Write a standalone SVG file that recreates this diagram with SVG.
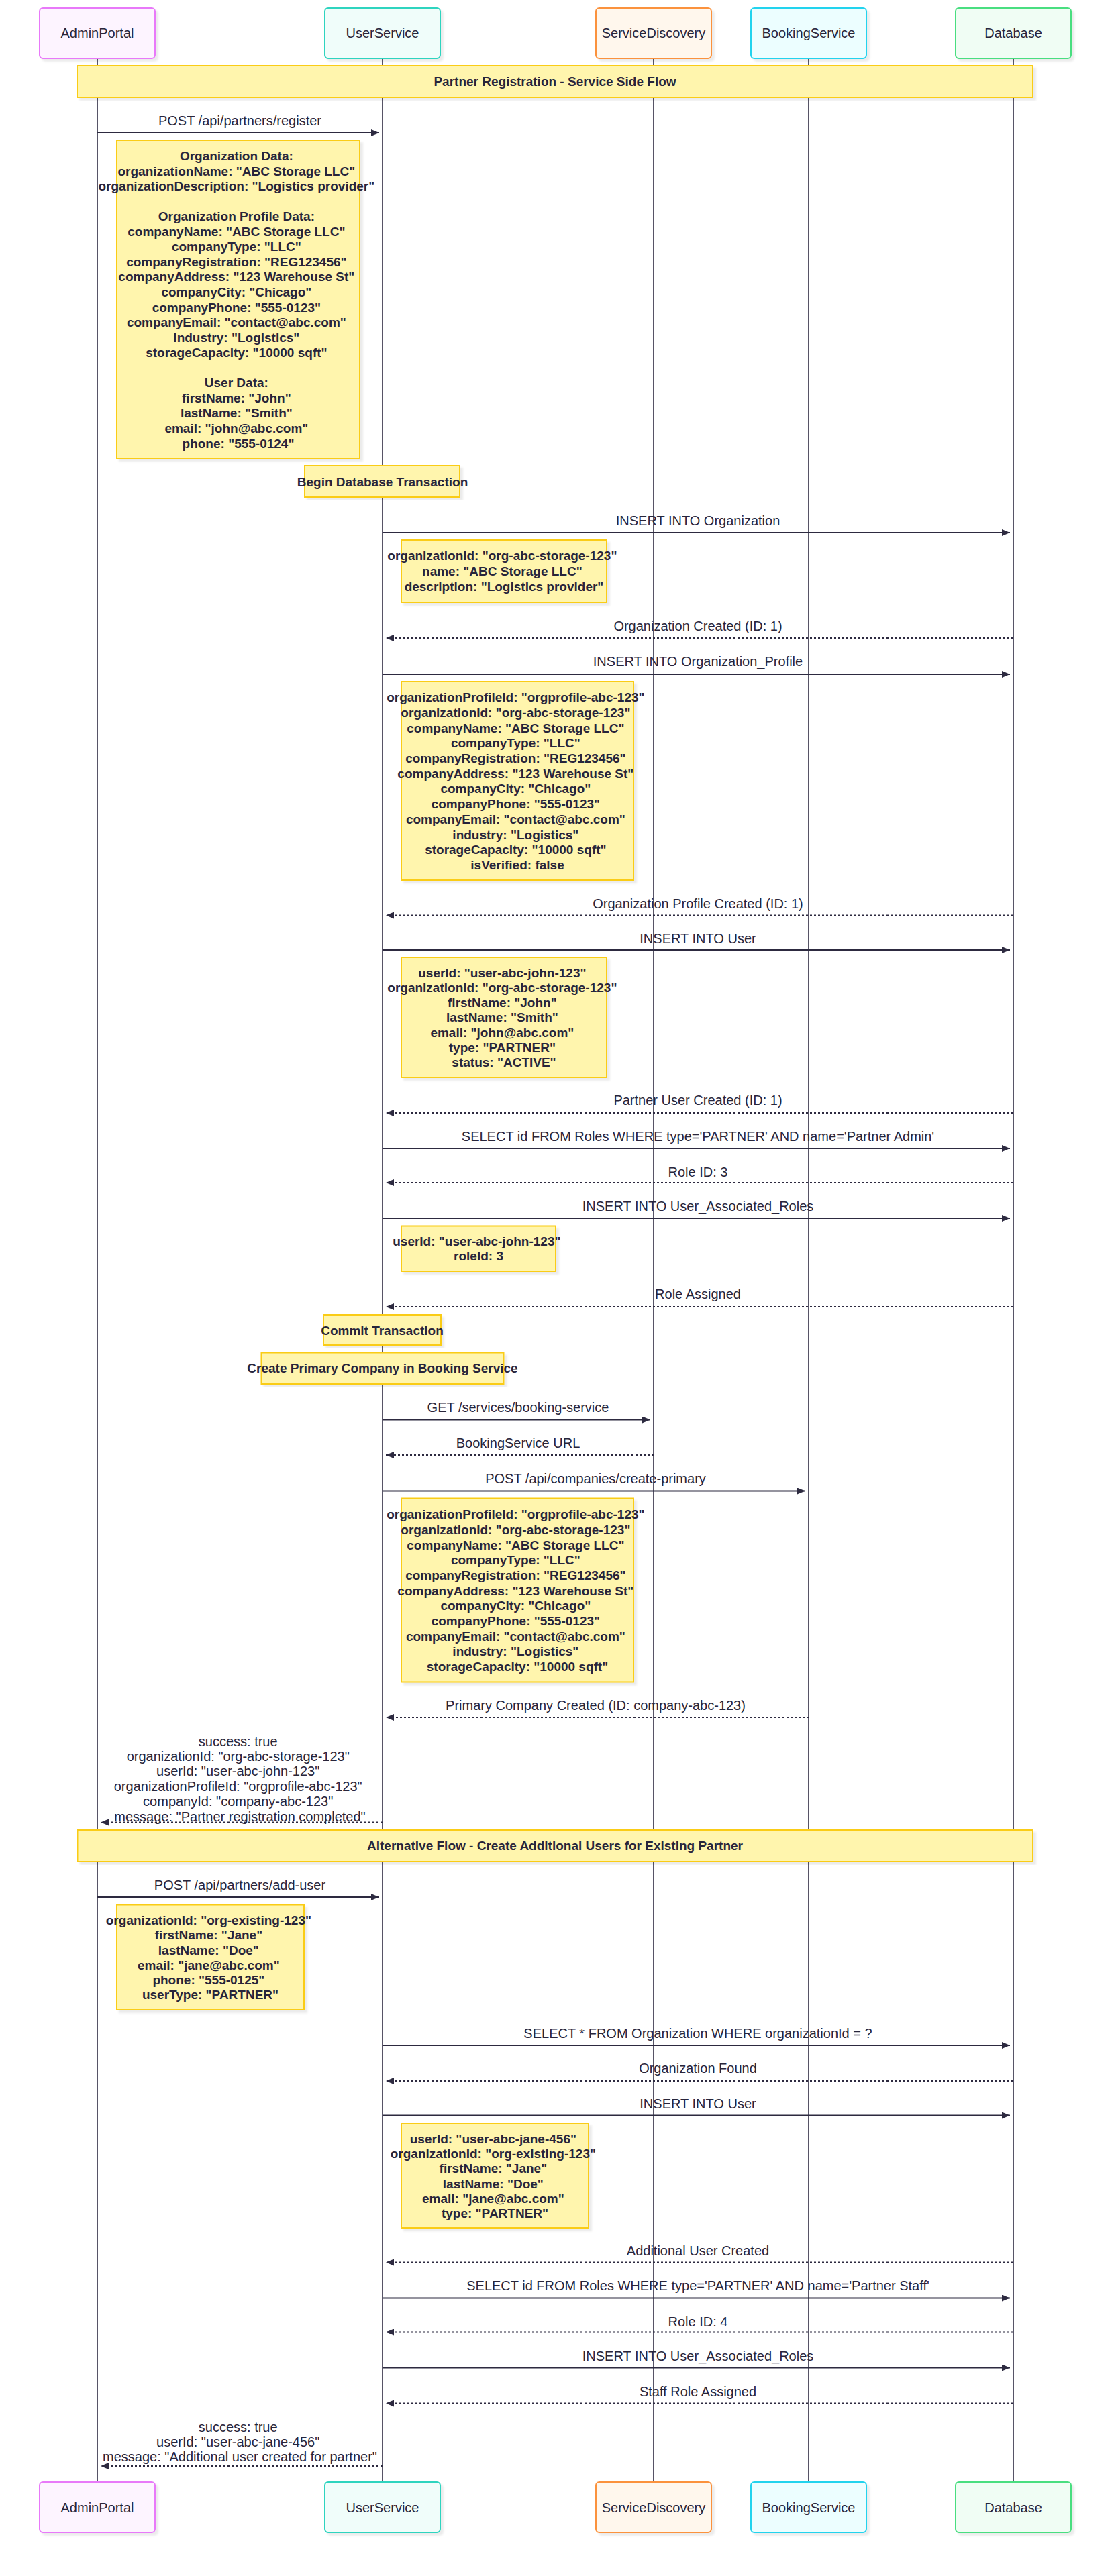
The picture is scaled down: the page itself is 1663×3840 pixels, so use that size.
<svg xmlns="http://www.w3.org/2000/svg" width="1663" height="3840" viewBox="0 0 1663 3840">
<style>
text{font-family:"Liberation Sans",Arial,sans-serif;fill:#28253b;text-anchor:middle}
.a{font-size:20px}
.m{font-size:20px}
.n{font-size:19px;font-weight:bold}
.life{stroke:#2d2a40;stroke-width:1.6}
.msg{stroke:#2d2a40;stroke-width:2;fill:none}
.dash{stroke-dasharray:3,3}
.note{fill:#fff5ad;stroke:#facc15;stroke-width:2}
</style>
<defs>
<filter id="sh" x="-5%" y="-5%" width="115%" height="115%"><feDropShadow dx="4" dy="4" stdDeviation="1.5" flood-color="#000" flood-opacity="0.08"/></filter>
<marker id="ah" markerWidth="12" markerHeight="10" refX="12" refY="5" orient="auto" markerUnits="userSpaceOnUse"><path d="M0,0 L12,5 L0,10 z" fill="#2d2a40"/></marker>
</defs>
<rect width="1663" height="3840" fill="#fff"/>
<g id="lifelines">
<line class="life" x1="145" y1="87" x2="145" y2="3700"/>
<line class="life" x1="570" y1="87" x2="570" y2="3700"/>
<line class="life" x1="974" y1="87" x2="974" y2="3700"/>
<line class="life" x1="1205" y1="87" x2="1205" y2="3700"/>
<line class="life" x1="1510" y1="87" x2="1510" y2="3700"/>
</g>
<g id="actor-AdminPortal">
<rect x="59" y="12" width="172" height="75" rx="5" fill="#fdf4ff" stroke="#e879f9" stroke-width="2" filter="url(#sh)"/>
<text class="a" x="145" y="56">AdminPortal</text>
<rect x="59" y="3700" width="172" height="75" rx="5" fill="#fdf4ff" stroke="#e879f9" stroke-width="2" filter="url(#sh)"/>
<text class="a" x="145" y="3745">AdminPortal</text>
</g>
<g id="actor-UserService">
<rect x="484" y="12" width="172" height="75" rx="5" fill="#f0fdfa" stroke="#2dd4bf" stroke-width="2" filter="url(#sh)"/>
<text class="a" x="570" y="56">UserService</text>
<rect x="484" y="3700" width="172" height="75" rx="5" fill="#f0fdfa" stroke="#2dd4bf" stroke-width="2" filter="url(#sh)"/>
<text class="a" x="570" y="3745">UserService</text>
</g>
<g id="actor-ServiceDiscovery">
<rect x="888" y="12" width="172" height="75" rx="5" fill="#fff7ed" stroke="#fb923c" stroke-width="2" filter="url(#sh)"/>
<text class="a" x="974" y="56">ServiceDiscovery</text>
<rect x="888" y="3700" width="172" height="75" rx="5" fill="#fff7ed" stroke="#fb923c" stroke-width="2" filter="url(#sh)"/>
<text class="a" x="974" y="3745">ServiceDiscovery</text>
</g>
<g id="actor-BookingService">
<rect x="1119" y="12" width="172" height="75" rx="5" fill="#ecfeff" stroke="#22d3ee" stroke-width="2" filter="url(#sh)"/>
<text class="a" x="1205" y="56">BookingService</text>
<rect x="1119" y="3700" width="172" height="75" rx="5" fill="#ecfeff" stroke="#22d3ee" stroke-width="2" filter="url(#sh)"/>
<text class="a" x="1205" y="3745">BookingService</text>
</g>
<g id="actor-Database">
<rect x="1424" y="12" width="172" height="75" rx="5" fill="#f0fdf4" stroke="#4ade80" stroke-width="2" filter="url(#sh)"/>
<text class="a" x="1510" y="56">Database</text>
<rect x="1424" y="3700" width="172" height="75" rx="5" fill="#f0fdf4" stroke="#4ade80" stroke-width="2" filter="url(#sh)"/>
<text class="a" x="1510" y="3745">Database</text>
</g>

<g id="note-section1">
<rect class="note" x="115" y="98" width="1424" height="47" filter="url(#sh)"/>
<text class="n" x="827" y="128">Partner Registration - Service Side Flow</text>
</g>
<g id="note-registration-data">
<rect class="note" x="174" y="209" width="362" height="474" filter="url(#sh)"/>
<text class="n">
<tspan x="355" y="239">Organization Data:</tspan>
<tspan x="355" y="261.6">organizationName: "ABC Storage LLC"</tspan>
<tspan x="355" y="284.1">organizationDescription: "Logistics provider"</tspan>
<tspan x="355" y="329.2">Organization Profile Data:</tspan>
<tspan x="355" y="351.8">companyName: "ABC Storage LLC"</tspan>
<tspan x="355" y="374.3">companyType: "LLC"</tspan>
<tspan x="355" y="396.9">companyRegistration: "REG123456"</tspan>
<tspan x="355" y="419.4">companyAddress: "123 Warehouse St"</tspan>
<tspan x="355" y="442">companyCity: "Chicago"</tspan>
<tspan x="355" y="464.5">companyPhone: "555-0123"</tspan>
<tspan x="355" y="487.1">companyEmail: "contact@abc.com"</tspan>
<tspan x="355" y="509.6">industry: "Logistics"</tspan>
<tspan x="355" y="532.2">storageCapacity: "10000 sqft"</tspan>
<tspan x="355" y="577.3">User Data:</tspan>
<tspan x="355" y="599.8">firstName: "John"</tspan>
<tspan x="355" y="622.4">lastName: "Smith"</tspan>
<tspan x="355" y="644.9">email: "john@abc.com"</tspan>
<tspan x="355" y="667.5">phone: "555-0124"</tspan>
</text>
</g>
<g id="note-begin-tx">
<rect class="note" x="454" y="694" width="231" height="47" filter="url(#sh)"/>
<text class="n" x="570" y="724.5">Begin Database Transaction</text>
</g>
<g id="note-org">
<rect class="note" x="598" y="805" width="306" height="93" filter="url(#sh)"/>
<text class="n">
<tspan x="751" y="835">organizationId: "org-abc-storage-123"</tspan>
<tspan x="751" y="858">name: "ABC Storage LLC"</tspan>
<tspan x="751" y="881">description: "Logistics provider"</tspan>
</text>
</g>
<g id="note-org-profile">
<rect class="note" x="598" y="1016" width="346" height="296" filter="url(#sh)"/>
<text class="n">
<tspan x="771" y="1046.2">organizationProfileId: "orgprofile-abc-123"</tspan>
<tspan x="771" y="1068.9">organizationId: "org-abc-storage-123"</tspan>
<tspan x="771" y="1091.6">companyName: "ABC Storage LLC"</tspan>
<tspan x="771" y="1114.3">companyType: "LLC"</tspan>
<tspan x="771" y="1137">companyRegistration: "REG123456"</tspan>
<tspan x="771" y="1159.7">companyAddress: "123 Warehouse St"</tspan>
<tspan x="771" y="1182.4">companyCity: "Chicago"</tspan>
<tspan x="771" y="1205.1">companyPhone: "555-0123"</tspan>
<tspan x="771" y="1227.8">companyEmail: "contact@abc.com"</tspan>
<tspan x="771" y="1250.5">industry: "Logistics"</tspan>
<tspan x="771" y="1273.2">storageCapacity: "10000 sqft"</tspan>
<tspan x="771" y="1295.9">isVerified: false</tspan>
</text>
</g>
<g id="note-user">
<rect class="note" x="598" y="1427" width="306" height="179" filter="url(#sh)"/>
<text class="n">
<tspan x="751" y="1456.5">userId: "user-abc-john-123"</tspan>
<tspan x="751" y="1478.8">organizationId: "org-abc-storage-123"</tspan>
<tspan x="751" y="1501.1">firstName: "John"</tspan>
<tspan x="751" y="1523.4">lastName: "Smith"</tspan>
<tspan x="751" y="1545.7">email: "john@abc.com"</tspan>
<tspan x="751" y="1568">type: "PARTNER"</tspan>
<tspan x="751" y="1590.3">status: "ACTIVE"</tspan>
</text>
</g>
<g id="note-role">
<rect class="note" x="598" y="1827.5" width="230" height="67.5" filter="url(#sh)"/>
<text class="n">
<tspan x="713" y="1856.5">userId: "user-abc-john-123"</tspan>
<tspan x="713" y="1879">roleId: 3</tspan>
</text>
</g>
<g id="note-commit">
<rect class="note" x="482" y="1960" width="175" height="45" filter="url(#sh)"/>
<text class="n" x="569.5" y="1989.5">Commit Transaction</text>
</g>
<g id="note-create-primary">
<rect class="note" x="389.5" y="2016.5" width="361" height="46.5" filter="url(#sh)"/>
<text class="n" x="570" y="2046.2">Create Primary Company in Booking Service</text>
</g>
<g id="note-company">
<rect class="note" x="598" y="2233.5" width="346" height="274" filter="url(#sh)"/>
<text class="n">
<tspan x="771" y="2264.1">organizationProfileId: "orgprofile-abc-123"</tspan>
<tspan x="771" y="2286.8">organizationId: "org-abc-storage-123"</tspan>
<tspan x="771" y="2309.5">companyName: "ABC Storage LLC"</tspan>
<tspan x="771" y="2332.2">companyType: "LLC"</tspan>
<tspan x="771" y="2354.9">companyRegistration: "REG123456"</tspan>
<tspan x="771" y="2377.6">companyAddress: "123 Warehouse St"</tspan>
<tspan x="771" y="2400.3">companyCity: "Chicago"</tspan>
<tspan x="771" y="2423">companyPhone: "555-0123"</tspan>
<tspan x="771" y="2445.7">companyEmail: "contact@abc.com"</tspan>
<tspan x="771" y="2468.4">industry: "Logistics"</tspan>
<tspan x="771" y="2491.1">storageCapacity: "10000 sqft"</tspan>
</text>
</g>
<g id="note-section2">
<rect class="note" x="115.5" y="2728" width="1423.5" height="47" filter="url(#sh)"/>
<text class="n" x="827" y="2758">Alternative Flow - Create Additional Users for Existing Partner</text>
</g>
<g id="note-add-user">
<rect class="note" x="174" y="2839.5" width="279" height="156.5" filter="url(#sh)"/>
<text class="n">
<tspan x="313.5" y="2869.1">organizationId: "org-existing-123"</tspan>
<tspan x="313.5" y="2891.3">firstName: "Jane"</tspan>
<tspan x="313.5" y="2913.5">lastName: "Doe"</tspan>
<tspan x="313.5" y="2935.8">email: "jane@abc.com"</tspan>
<tspan x="313.5" y="2958">phone: "555-0125"</tspan>
<tspan x="313.5" y="2980.2">userType: "PARTNER"</tspan>
</text>
</g>
<g id="note-new-user">
<rect class="note" x="598" y="3165" width="279" height="156" filter="url(#sh)"/>
<text class="n">
<tspan x="737.5" y="3195">userId: "user-abc-jane-456"</tspan>
<tspan x="737.5" y="3217.2">organizationId: "org-existing-123"</tspan>
<tspan x="737.5" y="3239.4">firstName: "Jane"</tspan>
<tspan x="737.5" y="3261.6">lastName: "Doe"</tspan>
<tspan x="737.5" y="3283.8">email: "jane@abc.com"</tspan>
<tspan x="737.5" y="3306">type: "PARTNER"</tspan>
</text>
</g>

<g id="connectors">
<line class="msg" x1="145" y1="198" x2="565" y2="198" marker-end="url(#ah)"/>
<text class="m" x="357.5" y="187">POST /api/partners/register</text>
<line class="msg" x1="570" y1="794" x2="1505" y2="794" marker-end="url(#ah)"/>
<text class="m" x="1040" y="783">INSERT INTO Organization</text>
<line class="msg dash" x1="1510" y1="951" x2="575" y2="951" marker-end="url(#ah)"/>
<text class="m" x="1040" y="939.5">Organization Created (ID: 1)</text>
<line class="msg" x1="570" y1="1005" x2="1505" y2="1005" marker-end="url(#ah)"/>
<text class="m" x="1040" y="992.5">INSERT INTO Organization_Profile</text>
<line class="msg dash" x1="1510" y1="1364.5" x2="575" y2="1364.5" marker-end="url(#ah)"/>
<text class="m" x="1040" y="1353.5">Organization Profile Created (ID: 1)</text>
<line class="msg" x1="570" y1="1416" x2="1505" y2="1416" marker-end="url(#ah)"/>
<text class="m" x="1040" y="1406">INSERT INTO User</text>
<line class="msg dash" x1="1510" y1="1659" x2="575" y2="1659" marker-end="url(#ah)"/>
<text class="m" x="1040" y="1647">Partner User Created (ID: 1)</text>
<line class="msg" x1="570" y1="1712" x2="1505" y2="1712" marker-end="url(#ah)"/>
<text class="m" x="1040" y="1700.5">SELECT id FROM Roles WHERE type='PARTNER' AND name='Partner Admin'</text>
<line class="msg dash" x1="1510" y1="1763" x2="575" y2="1763" marker-end="url(#ah)"/>
<text class="m" x="1040" y="1753.5">Role ID: 3</text>
<line class="msg" x1="570" y1="1816" x2="1505" y2="1816" marker-end="url(#ah)"/>
<text class="m" x="1040" y="1804.5">INSERT INTO User_Associated_Roles</text>
<line class="msg dash" x1="1510" y1="1948" x2="575" y2="1948" marker-end="url(#ah)"/>
<text class="m" x="1040" y="1936">Role Assigned</text>
<line class="msg" x1="570" y1="2116.5" x2="969" y2="2116.5" marker-end="url(#ah)"/>
<text class="m" x="772" y="2104.5">GET /services/booking-service</text>
<line class="msg dash" x1="974" y1="2169" x2="575" y2="2169" marker-end="url(#ah)"/>
<text class="m" x="772" y="2158">BookingService URL</text>
<line class="msg" x1="570" y1="2222.5" x2="1200" y2="2222.5" marker-end="url(#ah)"/>
<text class="m" x="887.5" y="2210.5">POST /api/companies/create-primary</text>
<line class="msg dash" x1="1205" y1="2560" x2="575" y2="2560" marker-end="url(#ah)"/>
<text class="m" x="887.5" y="2548.5">Primary Company Created (ID: company-abc-123)</text>
<line class="msg dash" x1="570" y1="2716.5" x2="150" y2="2716.5" marker-end="url(#ah)"/>
<text class="m">
<tspan x="357.5" y="2602.5">success: true</tspan>
<tspan x="357.5" y="2624.9">organizationId: "org-abc-storage-123"</tspan>
<tspan x="357.5" y="2647.4">userId: "user-abc-john-123"</tspan>
<tspan x="357.5" y="2669.8">organizationProfileId: "orgprofile-abc-123"</tspan>
<tspan x="357.5" y="2692.3">companyId: "company-abc-123"</tspan>
<tspan x="357.5" y="2714.7">message: "Partner registration completed"</tspan>
</text>
<line class="msg" x1="145" y1="2828" x2="565" y2="2828" marker-end="url(#ah)"/>
<text class="m" x="357.5" y="2816.5">POST /api/partners/add-user</text>
<line class="msg" x1="570" y1="3049" x2="1505" y2="3049" marker-end="url(#ah)"/>
<text class="m" x="1040" y="3038">SELECT * FROM Organization WHERE organizationId = ?</text>
<line class="msg dash" x1="1510" y1="3102" x2="575" y2="3102" marker-end="url(#ah)"/>
<text class="m" x="1040" y="3090">Organization Found</text>
<line class="msg" x1="570" y1="3153.5" x2="1505" y2="3153.5" marker-end="url(#ah)"/>
<text class="m" x="1040" y="3143">INSERT INTO User</text>
<line class="msg dash" x1="1510" y1="3372.5" x2="575" y2="3372.5" marker-end="url(#ah)"/>
<text class="m" x="1040" y="3362">Additional User Created</text>
<line class="msg" x1="570" y1="3425.5" x2="1505" y2="3425.5" marker-end="url(#ah)"/>
<text class="m" x="1040" y="3414">SELECT id FROM Roles WHERE type='PARTNER' AND name='Partner Staff'</text>
<line class="msg dash" x1="1510" y1="3476.5" x2="575" y2="3476.5" marker-end="url(#ah)"/>
<text class="m" x="1040" y="3467.5">Role ID: 4</text>
<line class="msg" x1="570" y1="3529.5" x2="1505" y2="3529.5" marker-end="url(#ah)"/>
<text class="m" x="1040" y="3519">INSERT INTO User_Associated_Roles</text>
<line class="msg dash" x1="1510" y1="3582.5" x2="575" y2="3582.5" marker-end="url(#ah)"/>
<text class="m" x="1040" y="3572">Staff Role Assigned</text>
<line class="msg dash" x1="570" y1="3676" x2="150" y2="3676" marker-end="url(#ah)"/>
<text class="m">
<tspan x="357.5" y="3625.3">success: true</tspan>
<tspan x="357.5" y="3647">userId: "user-abc-jane-456"</tspan>
<tspan x="357.5" y="3669">message: "Additional user created for partner"</tspan>
</text>
</g>
</svg>
